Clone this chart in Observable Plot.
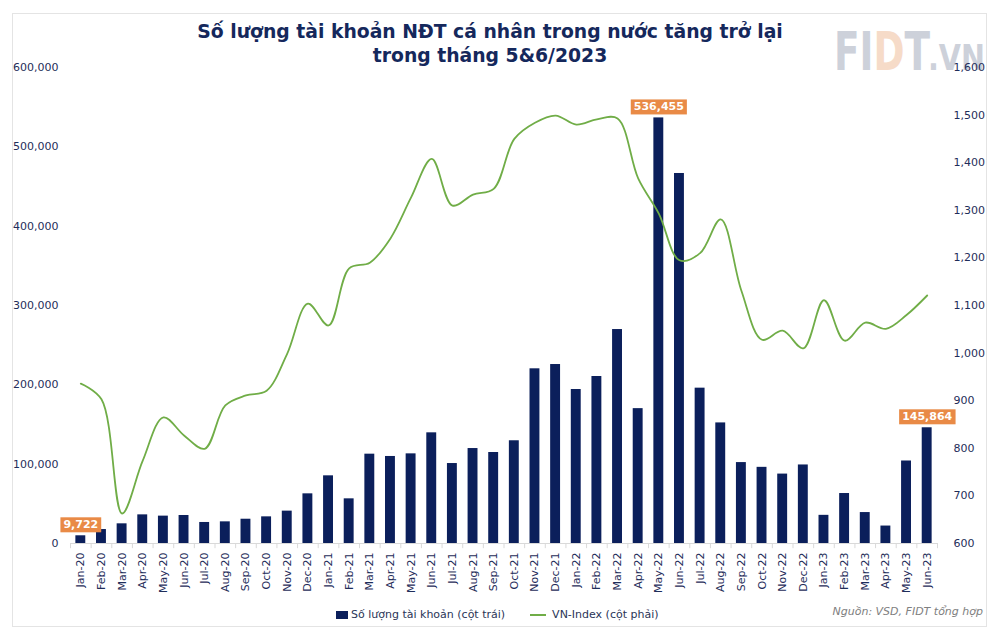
<!DOCTYPE html>
<html>
<head>
<meta charset="utf-8">
<script src="https://cdn.jsdelivr.net/npm/d3@7"></script>
<script src="https://cdn.jsdelivr.net/npm/@observablehq/plot@0.6"></script>
<style>
  html, body { margin: 0; padding: 0; background: #fff; }
  #wrap { position: relative; width: 1000px; height: 638px; overflow: hidden; font-family: "DejaVu Sans", Verdana, sans-serif; }
  #frame { position: absolute; left: 12px; top: 13px; width: 975px; height: 614px; border: 1.5px solid #e4e4e4; box-sizing: border-box; }
  #title { position: absolute; left: 0; top: 20px; width: 980px; text-align: center; font-weight: bold; font-size: 18.8px; line-height: 24px; color: #15285c; }
  #logo { position: absolute; left: 826px; top: 20px; overflow: visible; }
  #chart { position: absolute; left: 0; top: 0; }
  #legend { position: absolute; top: 608px; left: 336px; font-size: 11px; color: #2a3557; white-space: nowrap; }
  #legend span.sw { display: inline-block; vertical-align: middle; }
  #source { position: absolute; top: 605px; right: 17px; font-size: 11px; font-style: italic; color: #808080; }
</style>
</head>
<body>
<div id="wrap">
  <div id="frame"></div>
  <svg id="logo" width="170" height="60" viewBox="0 0 170 60">
    <g transform="translate(8,50) scale(0.693,1)">
      <text x="0" y="0" font-family="DejaVu Sans" font-weight="bold" font-size="54" fill="#cdd1da">FI<tspan fill="#f6dbc8">D</tspan>T</text>
    </g>
    <g transform="translate(102,50) scale(0.795,1)">
      <text x="0" y="0" font-family="DejaVu Sans" font-weight="bold" font-size="36" fill="#cdd1da">.VN</text>
    </g>
  </svg>
  <div id="title">Số lượng tài khoản NĐT cá nhân trong nước tăng trở lại<br>trong tháng 5&amp;6/2023</div>
  <div id="chart"></div>
  <div id="legend"><span class="sw" style="width:12px;height:8px;background:#0b1f5b;margin-right:3px;"></span>Số lượng tài khoản (cột trái)<span class="sw" style="width:16px;height:2px;background:#70ad47;margin-left:25px;margin-right:6px;"></span>VN-Index (cột phải)</div>
  <div id="source">Nguồn: VSD, FIDT tổng hợp</div>
</div>
<script>
const months = ["Jan-20","Feb-20","Mar-20","Apr-20","May-20","Jun-20","Jul-20","Aug-20","Sep-20","Oct-20","Nov-20","Dec-20",
  "Jan-21","Feb-21","Mar-21","Apr-21","May-21","Jun-21","Jul-21","Aug-21","Sep-21","Oct-21","Nov-21","Dec-21",
  "Jan-22","Feb-22","Mar-22","Apr-22","May-22","Jun-22","Jul-22","Aug-22","Sep-22","Oct-22","Nov-22","Dec-22",
  "Jan-23","Feb-23","Mar-23","Apr-23","May-23","Jun-23"];
const accounts = [9722, 17600, 24800, 36100, 34500, 35300, 26500, 27300, 30600, 33600, 40800, 62600,
  85300, 56300, 112600, 109700, 113000, 139500, 100800, 119700, 114700, 129500, 220200, 225600,
  194100, 210500, 269700, 170000, 536455, 466400, 195800, 152000, 102000, 96000, 87500, 99000,
  35500, 63000, 39000, 22000, 104000, 145864];
const vnIndex = [936, 903, 663, 774, 865, 827, 799, 890, 911, 921, 999, 1104,
  1058, 1178, 1190, 1241, 1327, 1408, 1310, 1333, 1345, 1450, 1484, 1499,
  1480, 1491, 1493, 1367, 1293, 1195, 1210, 1281, 1131, 1028, 1047, 1010,
  1111, 1026, 1064, 1051, 1080, 1121];
const leftTicks = [0, 100000, 200000, 300000, 400000, 500000, 600000];
const rightTicks = [600, 700, 800, 900, 1000, 1100, 1200, 1300, 1400, 1500, 1600];
const labelled = ["Jan-20", "May-22", "Jun-23"];

const toLeft = v => (v - 600) / 1000 * 600000;
const fromLeft = d => 600 + d / 600000 * 1000;
const fmt = d3.format(",");
const data = months.map((m, i) => ({m, a: accounts[i], v: vnIndex[i]}));

const W = 1000, H = 638, mL = 70, mR = 63, mT = 67, mB = 95;
const step = (W - mL - mR) / months.length;

const chart = Plot.plot({
  width: W, height: H,
  marginLeft: mL, marginRight: mR, marginTop: mT, marginBottom: mB,
  style: {fontFamily: "DejaVu Sans, Verdana, sans-serif", fontSize: "11px", color: "#1f2d5a", background: "transparent", overflow: "visible"},
  x: {type: "band", domain: months, paddingInner: 0.52, paddingOuter: 0.26, round: false, axis: null, label: null},
  y: {domain: [0, 600000], axis: null, label: null},
  marks: [
    Plot.barY(data, {x: "m", y: "a", fill: "#0b1f5b"}),
    Plot.ruleY([0], {stroke: "#d9d9d9", strokeWidth: 1}),
    Plot.ruleX(months, {x: d => d, dx: -step / 2, y1: 0, y2: -6500, stroke: "#d9d9d9"}),
    Plot.ruleX(months.slice(-1), {x: d => d, dx: step / 2, y1: 0, y2: -6500, stroke: "#d9d9d9"}),
    Plot.line(data, {x: "m", y: d => toLeft(d.v), stroke: "#70ad47", strokeWidth: 1.8, curve: "catmull-rom"}),
    Plot.axisY(leftTicks, {anchor: "left", tickSize: 0, tickPadding: 12, tickFormat: fmt, label: null}),
    Plot.axisY(rightTicks.map(toLeft), {anchor: "right", tickSize: 0, tickPadding: 16, tickFormat: d => fmt(Math.round(fromLeft(d))), label: null}),
    Plot.axisX(months, {anchor: "bottom", tickSize: 0, tickPadding: 9, tickRotate: -90, label: null}),
    Plot.text(data.filter(d => labelled.includes(d.m)), {x: "m", y: "a", text: d => fmt(d.a), dy: -11, fill: "white", fontWeight: "bold", fontSize: 11})
  ]
});
document.getElementById("chart").appendChild(chart);

// orange boxes behind value labels
const svgNS = "http://www.w3.org/2000/svg";
chart.querySelectorAll('g[aria-label="text"] text').forEach(t => {
  const b = t.getBBox();
  const r = document.createElementNS(svgNS, "rect");
  const cy = b.y + b.height / 2;
  r.setAttribute("x", b.x - 3);
  r.setAttribute("y", cy - 7.5);
  r.setAttribute("width", b.width + 6);
  r.setAttribute("height", 15);
  r.setAttribute("fill", "#e98a46");
  if (t.getAttribute("transform")) r.setAttribute("transform", t.getAttribute("transform"));
  t.parentNode.insertBefore(r, t);
});
</script>
</body>
</html>
